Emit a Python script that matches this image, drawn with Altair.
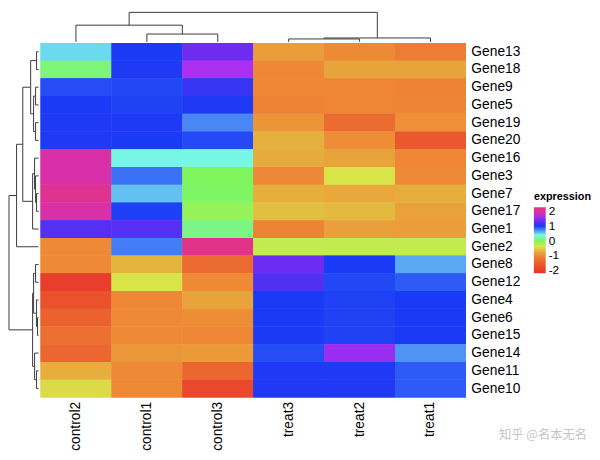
import altair as alt
import pandas as pd

genes = ["Gene13", "Gene18", "Gene9", "Gene5", "Gene19", "Gene20", "Gene16", "Gene3",
         "Gene7", "Gene17", "Gene1", "Gene2", "Gene8", "Gene12", "Gene4", "Gene6",
         "Gene15", "Gene14", "Gene11", "Gene10"]
samples = ["control2", "control1", "control3", "treat3", "treat2", "treat1"]

control2 = [0.48, 0.08, 0.93, 1.00, 1.02, 1.03, 1.85, 1.85, 2.05, 1.88, 1.25, -1.00,
            -1.00, -2.00, -1.70, -1.45, -1.30, -1.40, -0.72, -0.47]
control1 = [1.00, 1.02, 0.95, 0.97, 1.02, 1.00, 0.38, 0.80, 0.55, 0.98, 1.25, 0.75,
            -0.68, -0.42, -1.02, -1.00, -1.00, -0.90, -1.00, -1.00]
control3 = [1.35, 1.63, 1.12, 1.02, 0.72, 0.94, 0.38, 0.00, 0.02, -0.10, 0.12, 2.10,
            -1.35, -1.00, -0.80, -0.97, -1.05, -0.88, -1.40, -1.85]
treat3 = [-0.85, -1.02, -1.02, -1.10, -0.92, -0.70, -0.75, -1.02, -0.72, -0.62, -1.08, -0.30,
          1.35, 1.22, 1.00, 1.00, 1.00, 0.93, 1.02, 1.02]
treat2 = [-1.00, -0.80, -1.05, -1.05, -1.35, -0.97, -0.80, -0.42, -0.76, -0.65, -0.83, -0.30,
          1.00, 0.95, 0.97, 0.97, 0.97, 1.55, 1.02, 1.02]
treat1 = [-1.15, -0.80, -1.08, -1.07, -0.95, -1.60, -1.05, -1.00, -0.72, -0.82, -0.85, -0.30,
          0.62, 0.88, 1.00, 1.00, 1.00, 0.68, 0.88, 0.88]
values_by_sample = [control2, control1, control3, treat3, treat2, treat1]

# hierarchical merges: (left, right, height); ints refer to earlier merges
row_merges = [
    ("Gene13", "Gene18", 2), ("Gene9", "Gene5", 3), ("Gene19", "Gene20", 3),
    (1, 2, 5), (0, 3, 8), ("Gene7", "Gene17", 2), ("Gene3", 5, 3), ("Gene16", 6, 4),
    (7, "Gene1", 6), (4, 8, 16), (9, "Gene2", 22.3), ("Gene8", "Gene12", 3),
    ("Gene6", "Gene15", 1), ("Gene4", 12, 2), (11, 13, 5), ("Gene11", "Gene10", 2),
    ("Gene14", 15, 4), (14, 16, 6), (10, 17, 32),
]
col_merges = [
    ("control1", "control3", 8), ("control2", 0, 17), ("treat3", "treat2", 3),
    (2, "treat1", 4), (1, 3, 32),
]

color_stops = [-2.2, -1.5, -1.0, -0.7, -0.4, 0.0, 0.4, 0.7, 1.0, 1.4, 1.65, 1.85, 2.25]
color_range = ["#E8312A", "#EB5E2E", "#EE8A36", "#E6B03E", "#D8E84A", "#7EF55C",
               "#78F6EC", "#4C8CF5", "#1A3AF5", "#7A2AF0", "#B030F0", "#D830A8", "#E8357A"]


def segments(leaves, merges):
    pos = {name: i + 0.5 for i, name in enumerate(leaves)}
    nodes = []
    segs = []

    def get(k):
        if isinstance(k, int):
            return nodes[k]
        return (pos[k], 0.0)

    for a, b, h in merges:
        pa, ha = get(a)
        pb, hb = get(b)
        segs.append({"p1": pa, "p2": pa, "h1": ha, "h2": h})
        segs.append({"p1": pb, "p2": pb, "h1": hb, "h2": h})
        segs.append({"p1": pa, "p2": pb, "h1": h, "h2": h})
        nodes.append(((pa + pb) / 2, h))
    return pd.DataFrame(segs)


heat_df = pd.DataFrame([
    {"gene": g, "sample": s, "expression": vals[i]}
    for s, vals in zip(samples, values_by_sample)
    for i, g in enumerate(genes)
])

FONT = "Liberation Sans"
LINE = "#3a3a3a"
color_scale = alt.Scale(domain=color_stops, range=color_range, interpolate="rgb", clamp=True)

x_enc = alt.X("sample:N", sort=samples,
              scale=alt.Scale(paddingInner=0, paddingOuter=0),
              axis=alt.Axis(orient="bottom", title=None, labelAngle=-90, ticks=False,
                            domain=False, labelPadding=4, labelFontSize=14,
                            labelFont=FONT, labelColor="black"))
y_enc = alt.Y("gene:N", sort=genes,
              scale=alt.Scale(paddingInner=0, paddingOuter=0),
              axis=alt.Axis(orient="right", title=None, ticks=False, domain=False,
                            labelPadding=5, labelFontSize=14, labelFont=FONT,
                            labelColor="black"))

heat = alt.Chart(heat_df).mark_rect().encode(
    x=x_enc, y=y_enc,
    color=alt.Color("expression:Q", scale=color_scale,
                    legend=alt.Legend(orient="none", legendX=533, legendY=182,
                                      type="gradient",
                                      title="expression", titleFont=FONT,
                                      titleFontSize=11, titleFontWeight="bold",
                                      titleColor="black", labelFont=FONT,
                                      labelFontSize=12, labelColor="black",
                                      gradientLength=67, gradientThickness=12,
                                      values=[-2, -1, 0, 1, 2],
                                      labelExpr="'' + datum.value",
                                      labelOffset=3)),
)

# second identical pass of the cells hides anti-aliasing seams between rows
heat_fill = alt.Chart(heat_df).mark_rect().encode(
    x=x_enc, y=y_enc,
    color=alt.Color("expression:Q", scale=color_scale),
)

wm_df = pd.DataFrame({"t": ["知乎 @名本无名"]})
watermark = alt.Chart(wm_df).mark_text(
    font="Noto Sans CJK SC", fontSize=12.5, color="#c4c4c4", align="right",
    baseline="middle"
).encode(text="t:N", x=alt.value(555), y=alt.value(398))

heat_layer = alt.layer(heat, heat_fill, watermark).properties(width=432, height=360)

row_seg = segments(genes, row_merges)
left = alt.Chart(row_seg).mark_rule(color=LINE, strokeWidth=1).encode(
    x=alt.X("h1:Q", scale=alt.Scale(domain=[-2, 30], reverse=True, clamp=True, nice=False),
            axis=None),
    x2="h2",
    y=alt.Y("p1:Q", scale=alt.Scale(domain=[0, 20], reverse=True, nice=False), axis=None),
    y2="p2",
).properties(width=32, height=360)

col_seg = segments(samples, col_merges)
top = alt.Chart(col_seg).mark_rule(color=LINE, strokeWidth=1).encode(
    x=alt.X("p1:Q", scale=alt.Scale(domain=[0, 6], nice=False), axis=None),
    x2="p2",
    y=alt.Y("h1:Q", scale=alt.Scale(domain=[-1, 30], clamp=True, nice=False), axis=None),
    y2="h2",
).properties(width=432, height=31)

spacer = alt.Chart(pd.DataFrame({"a": [0]})).mark_point(opacity=0).encode(
    x=alt.value(16), y=alt.value(15), size=alt.value(1)
).properties(width=32, height=31)

chart = alt.vconcat(
    alt.hconcat(spacer, top, spacing=0),
    alt.hconcat(left, heat_layer, spacing=0),
    spacing=0,
).properties(padding=0).configure_view(stroke=None)

chart.save("out.html", embed_options={"renderer": "svg", "actions": False})
